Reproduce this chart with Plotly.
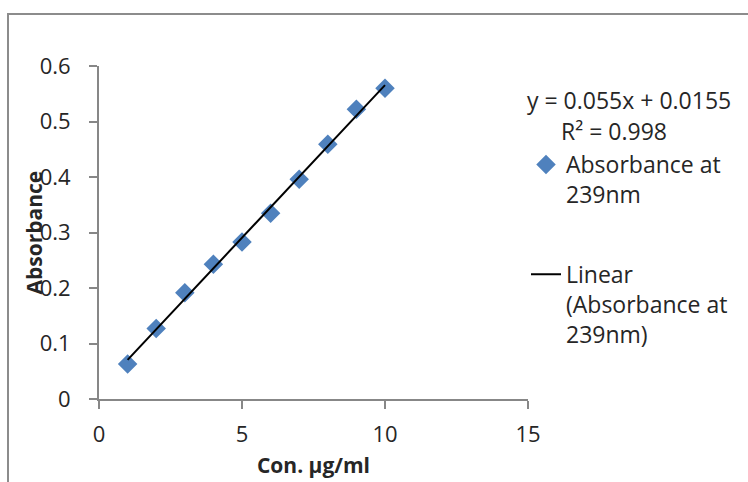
import plotly.graph_objects as go

# Data
conc = [1, 2, 3, 4, 5, 6, 7, 8, 9, 10]
absorbance = [0.063, 0.127, 0.1915, 0.243, 0.283, 0.3345, 0.396, 0.459, 0.522, 0.560]
trend_slope = 0.055
trend_intercept = 0.0155
r_squared = 0.998
x_ticks = [0, 5, 10, 15]
y_ticks = [0, 0.1, 0.2, 0.3, 0.4, 0.5, 0.6]
y_tick_labels = ["0", "0.1", "0.2", "0.3", "0.4", "0.5", "0.6"]

trend_x = [conc[0], conc[-1]]
trend_y = [trend_slope * v + trend_intercept for v in trend_x]

FONT = "Open Sans"
AX = "#878787"
TXT = "#262626"

fig = go.Figure()
fig.add_trace(go.Scatter(
    x=conc, y=absorbance, mode="markers",
    name="Absorbance at<br>239nm", legendgroup="a",
    marker=dict(symbol="diamond", size=15, color="#4F81BD", line=dict(width=0)),
))
fig.add_trace(go.Scatter(
    x=trend_x, y=trend_y, mode="lines",
    name="Linear<br>(Absorbance at<br>239nm)", legendgroup="b",
    line=dict(color="black", width=2),
))

W, H = 748, 482
L, R, T, B = 99, 220, 66, 83
pw, ph = W - L - R, H - T - B

def px_x(p):
    return (p - L) / pw

def px_y(p):
    return (H - B - p) / ph

fig.update_layout(
    width=W, height=H,
    margin=dict(l=L, r=R, t=T, b=B, autoexpand=False),
    paper_bgcolor="white", plot_bgcolor="white",
    font=dict(family=FONT, size=22, color=TXT),
    showlegend=True,
    legend=dict(
        x=px_x(526), y=px_y(143), xanchor="left", yanchor="top",
        font=dict(family=FONT, size=23, color=TXT),
        tracegroupgap=47, valign="top", bgcolor="rgba(0,0,0,0)",
        itemwidth=30,
    ),
    xaxis=dict(
        range=[0, 15], tickvals=x_ticks, ticktext=[str(v) for v in x_ticks],
        showgrid=False, zeroline=False, showline=True, linecolor=AX, linewidth=2,
        ticks="outside", ticklen=8, tickwidth=2, tickcolor=AX,
        tickfont=dict(family=FONT, size=22, color=TXT), ticklabelstandoff=7,
        title=dict(text="<b>Con. µg/ml</b>", font=dict(family=FONT, size=21, color=TXT), standoff=11),
        automargin=False,
    ),
    yaxis=dict(
        range=[0, 0.6], tickvals=y_ticks, ticktext=y_tick_labels,
        showgrid=False, zeroline=False, showline=True, linecolor=AX, linewidth=2,
        ticks="outside", ticklen=8, tickwidth=2, tickcolor=AX,
        tickfont=dict(family=FONT, size=22, color=TXT), ticklabelstandoff=14,
        automargin=False,
    ),
)

# y-axis title (placed to overlap the tick labels as in the reference)
fig.add_annotation(
    xref="paper", yref="paper", x=px_x(33), y=0.5,
    text="<b>Absorbance</b>", textangle=-90, showarrow=False,
    xanchor="center", yanchor="middle", font=dict(family=FONT, size=21, color=TXT),
)

fig.add_annotation(
    xref="paper", yref="paper", x=px_x(629), y=px_y(100),
    text=f"y = {trend_slope}x + {trend_intercept}", showarrow=False,
    xanchor="center", yanchor="middle", font=dict(family=FONT, size=23, color=TXT),
)
fig.add_annotation(
    xref="paper", yref="paper", x=px_x(614), y=px_y(131),
    text=f"R² = {r_squared}", showarrow=False,
    xanchor="center", yanchor="middle", font=dict(family=FONT, size=23, color=TXT),
)

# outer chart-area border (top and left visible)
fig.add_shape(
    type="rect", xref="paper", yref="paper",
    x0=px_x(8), x1=px_x(760), y0=px_y(500), y1=px_y(14),
    line=dict(color="#8C8C8C", width=2), fillcolor="rgba(0,0,0,0)", layer="below",
)

fig.write_html("out.html")
